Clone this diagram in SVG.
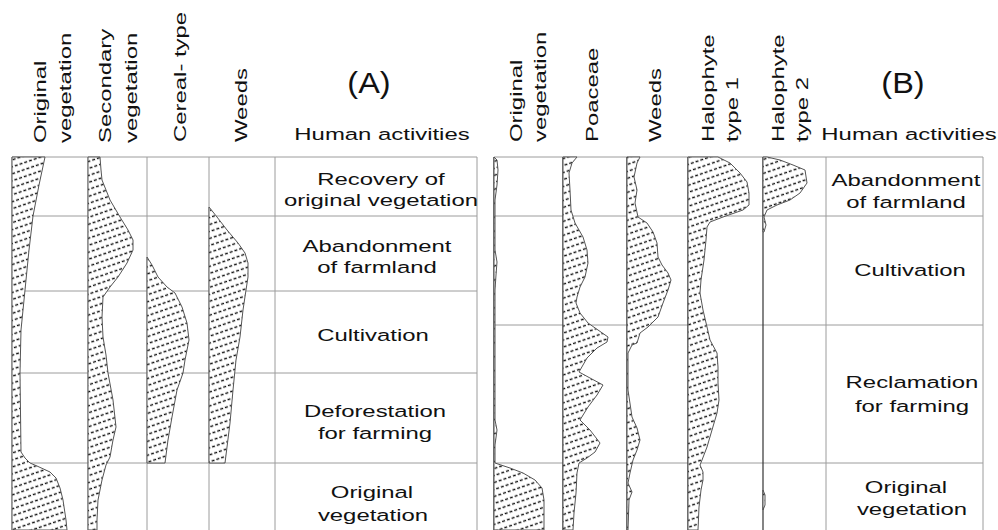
<svg xmlns="http://www.w3.org/2000/svg" width="998" height="530" viewBox="0 0 998 530">
<style>
.t{font-family:"Liberation Sans",Arial,sans-serif;font-size:17.2px;fill:#111}
.c{text-anchor:middle}
.big{font-size:29px}
.grid{stroke:#9c9c9c;stroke-width:1;fill:none}
.curve{fill:url(#hatch);stroke:#555;stroke-width:1;stroke-linejoin:round}
.base{stroke:#333;stroke-width:1.2}
</style>
<defs>
<pattern id="hatch" patternUnits="userSpaceOnUse" width="10" height="6.6" patternTransform="rotate(-19)">
<rect width="10" height="6.6" fill="#fff"/>
<line x1="0" y1="3.3" x2="10" y2="3.3" stroke="#111" stroke-width="1.3" stroke-dasharray="3 2"/>
</pattern>
</defs>
<rect width="998" height="530" fill="#fff"/>

<g id="gridA" class="grid">
<line x1="12" y1="157" x2="477" y2="157"/>
<line x1="12" y1="216" x2="477" y2="216"/>
<line x1="12" y1="291" x2="477" y2="291"/>
<line x1="12" y1="373" x2="477" y2="373"/>
<line x1="12" y1="463" x2="477" y2="463"/>
<line x1="12" y1="157" x2="12" y2="530"/>
<line x1="88" y1="157" x2="88" y2="530"/>
<line x1="147" y1="157" x2="147" y2="530"/>
<line x1="209" y1="157" x2="209" y2="530"/>
<line x1="275" y1="157" x2="275" y2="530"/>
<line x1="477" y1="157" x2="477" y2="530"/>
</g>
<g id="gridB" class="grid">
<line x1="494" y1="157" x2="983" y2="157"/>
<line x1="494" y1="216" x2="983" y2="216"/>
<line x1="494" y1="325" x2="983" y2="325"/>
<line x1="494" y1="463" x2="983" y2="463"/>
<line x1="826" y1="157" x2="826" y2="530"/>
<line x1="983" y1="157" x2="983" y2="530"/>
</g>
<g id="baselinesB" class="base">
<line x1="494" y1="157" x2="494" y2="530"/>
<line x1="563" y1="157" x2="563" y2="530"/>
<line x1="627" y1="157" x2="627" y2="530"/>
<line x1="688" y1="157" x2="688" y2="530"/>
<line x1="763" y1="157" x2="763" y2="530"/>
</g>

<g id="curvesA">
<path id="a-original" class="curve" d="M12,157 L45,157 L39,185 L33,216 L29,250 L25,290 L21,330 L20,373 L21,452 L25,458 L30,463 L37,466 L50,472 L56,478 L60,488 L63,500 L66,520 L67,530 L12,530 Z"/>
<path id="a-secondary" class="curve" d="M88,157 L100,157 L101,170 L102,180 L110,200 L120,217 L128,230 L133,240 L133,250 L127,263 L118,277 L110,287 L103,297 L102,317 L103,337 L106,355 L108,373 L113,400 L116,427 L113,440 L110,457 L106,465 L102,480 L98,500 L97,520 L97,530 L88,530 Z"/>
<path id="a-cereal" class="curve" d="M147,257 L152,265 L158,277 L167,287 L175,293 L182,307 L187,323 L189,340 L185,360 L183,373 L177,390 L172,417 L168,440 L165,463 L147,463 Z"/>
<path id="a-weeds" class="curve" d="M209,207 L217,217 L227,230 L238,243 L245,253 L248,263 L248,277 L246,290 L243,310 L240,337 L236,360 L233,390 L230,423 L227,447 L225,463 L209,463 Z"/>
</g>
<g id="curvesB">
<path id="b-original" class="curve" d="M494,157 L497,160 L498,170 L497,185 L495,200 L495,250 L497,262 L496,275 L495,290 L495,420 L497,430 L495,445 L495,463 L510,468 L523,473 L535,480 L542,488 L544,500 L544,530 L494,530 Z"/>
<path id="b-poaceae" class="curve" d="M563,157 L577,157 L572,163 L569,173 L570,190 L571,210 L575,223 L583,237 L587,250 L588,263 L585,277 L580,287 L577,297 L576,303 L580,313 L588,323 L598,330 L608,337 L607,342 L597,348 L587,358 L579,372 L590,378 L603,385 L597,395 L588,407 L580,420 L590,430 L600,443 L595,452 L587,458 L579,463 L577,473 L576,493 L574,513 L573,530 L563,530 Z"/>
<path id="b-weeds" class="curve" d="M627,157 L640,157 L637,163 L634,177 L637,190 L635,203 L638,217 L647,223 L653,232 L657,243 L658,257 L662,265 L668,273 L671,280 L668,290 L663,303 L658,317 L648,327 L640,333 L637,343 L632,345 L628,353 L628,390 L632,417 L637,428 L640,440 L637,450 L633,460 L630,473 L628,483 L632,492 L629,500 L628,530 L627,530 Z"/>
<path id="b-halo1" class="curve" d="M688,157 L718,157 L730,163 L740,173 L747,182 L749,193 L749,205 L743,210 L723,217 L710,222 L707,227 L706,240 L704,260 L701,280 L700,293 L703,310 L707,327 L710,340 L717,353 L718,367 L718,383 L719,400 L717,413 L712,430 L707,447 L702,460 L700,465 L703,472 L703,480 L701,490 L699,507 L698,530 L688,530 Z"/>
<path id="b-halo2" class="curve" d="M763,157 L767,157 L780,160 L793,165 L805,170 L807,183 L800,193 L790,200 L777,205 L767,210 L764,217 L766,225 L764,232 L763,232 Z"/>
<path id="b-halo2b" class="curve" d="M763,490 L765,495 L765,505 L763,510 Z"/>
</g>

<g id="headersA" class="t">
<text transform="translate(46,143) rotate(-90) scale(1.39,1)">Original</text>
<text transform="translate(71,143) rotate(-90) scale(1.39,1)">vegetation</text>
<text transform="translate(111,143) rotate(-90) scale(1.39,1)">Secondary</text>
<text transform="translate(137,143) rotate(-90) scale(1.39,1)">vegetation</text>
<text transform="translate(186,142) rotate(-90) scale(1.39,1)">Cereal- type</text>
<text transform="translate(247,142) rotate(-90) scale(1.39,1)">Weeds</text>
<text class="c big" transform="translate(369,93) scale(1.12,1)">(A)</text>
<text class="c" transform="translate(382,140) scale(1.39,1)">Human activities</text>
</g>
<g id="headersB" class="t">
<text transform="translate(522,142) rotate(-90) scale(1.39,1)">Original</text>
<text transform="translate(546,142) rotate(-90) scale(1.39,1)">vegetation</text>
<text transform="translate(598,142) rotate(-90) scale(1.39,1)">Poaceae</text>
<text transform="translate(661,142) rotate(-90) scale(1.39,1)">Weeds</text>
<text transform="translate(714,142) rotate(-90) scale(1.39,1)">Halophyte</text>
<text transform="translate(738,142) rotate(-90) scale(1.39,1)">type 1</text>
<text transform="translate(784,142) rotate(-90) scale(1.39,1)">Halophyte</text>
<text transform="translate(808,142) rotate(-90) scale(1.39,1)">type 2</text>
<text class="c big" transform="translate(903,93) scale(1.12,1)">(B)</text>
<text class="c" transform="translate(909,140) scale(1.39,1)">Human activities</text>
</g>

<g id="activitiesA" class="t c">
<text transform="translate(381,185) scale(1.39,1)">Recovery of</text>
<text transform="translate(381,206) scale(1.39,1)">original vegetation</text>
<text transform="translate(377,252) scale(1.39,1)">Abandonment</text>
<text transform="translate(377,273) scale(1.39,1)">of farmland</text>
<text transform="translate(373,341) scale(1.39,1)">Cultivation</text>
<text transform="translate(375,417) scale(1.39,1)">Deforestation</text>
<text transform="translate(375,439) scale(1.39,1)">for farming</text>
<text transform="translate(372,498) scale(1.39,1)">Original</text>
<text transform="translate(373,521) scale(1.39,1)">vegetation</text>
</g>
<g id="activitiesB" class="t c">
<text transform="translate(906,186) scale(1.39,1)">Abandonment</text>
<text transform="translate(906,208) scale(1.39,1)">of farmland</text>
<text transform="translate(910,276) scale(1.39,1)">Cultivation</text>
<text transform="translate(912,388) scale(1.39,1)">Reclamation</text>
<text transform="translate(912,412) scale(1.39,1)">for farming</text>
<text transform="translate(906,493) scale(1.39,1)">Original</text>
<text transform="translate(912,515) scale(1.39,1)">vegetation</text>
</g>
<g id="connectors"/>
</svg>
